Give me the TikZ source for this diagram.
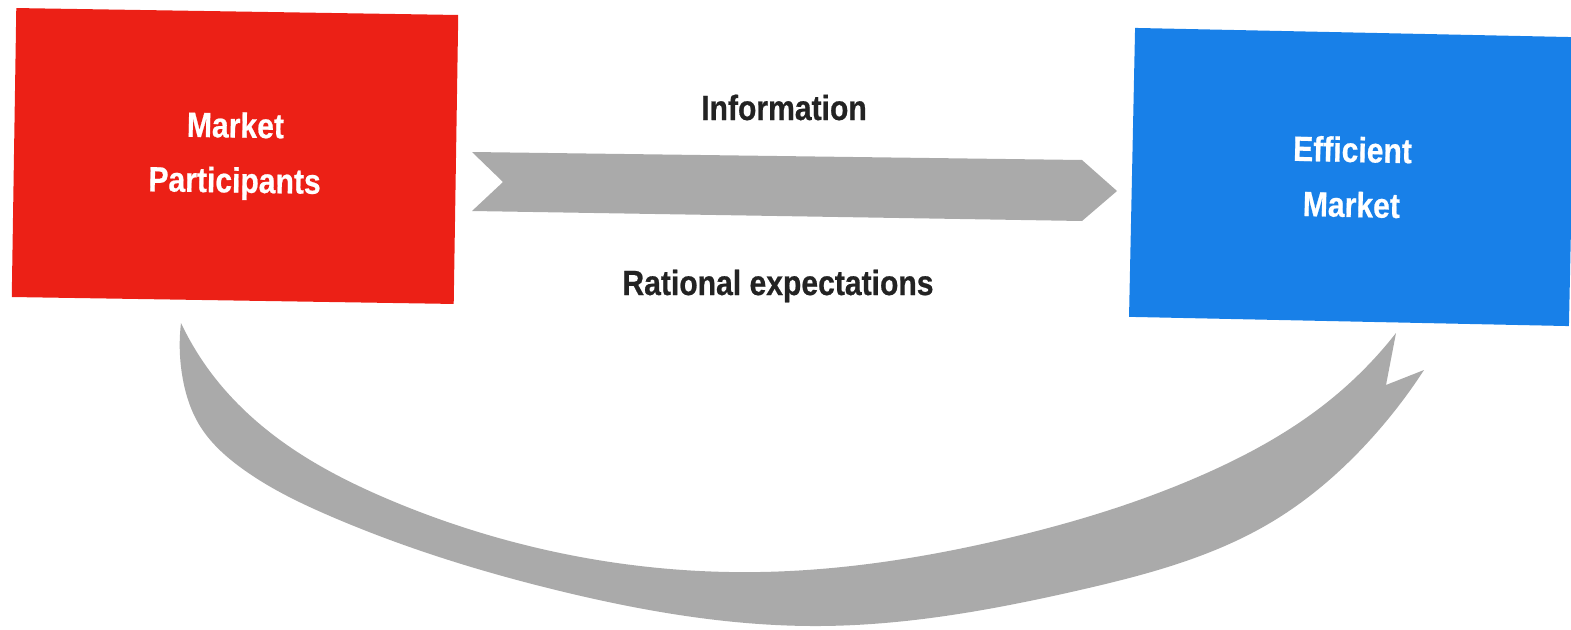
\documentclass[tikz,border=0pt]{standalone}
\usepackage{fontspec}
\newfontfamily\condfont[FakeStretch=0.86, BoldFeatures={FakeBold=0.6}]{Liberation Sans}
\usetikzlibrary{hobby}
\definecolor{mpred}{RGB}{236,32,22}
\definecolor{emblue}{RGB}{24,128,232}
\definecolor{arrowgray}{RGB}{170,170,170}
\definecolor{labelink}{RGB}{35,35,35}
\begin{document}
\begin{tikzpicture}[x=1pt,y=-1pt,
  boxtext/.style={font=\condfont\bfseries\fontsize{35}{55}\selectfont, text=white, align=center},
  colbox/.style={minimum width=442pt, minimum height=289pt, inner sep=0pt, boxtext},
  lbltext/.style={font=\condfont\bfseries\fontsize{35}{42}\selectfont, text=labelink, inner sep=0pt},
  band/.style={fill=arrowgray}
]
\useasboundingbox (0,0) rectangle (1571,629);

% boxes
\node[colbox, fill=mpred, rotate=-0.9] (mp) at (235,156) {Market\\Participants};
\node[colbox, fill=emblue, rotate=-1.2, minimum width=440pt] (em) at (1352,177) {Efficient\\Market};

% top straight arrow (notched tail, pointed head)
\coordinate (tailtop) at (472,152);
\coordinate (tailnotch) at (503,182);
\coordinate (tailbot) at (472,211);
\coordinate (headtop) at (1082,160);
\coordinate (headtip) at (1117,191);
\coordinate (headbot) at (1082,221);
\fill[band] (tailtop) -- (headtop) -- (headtip) -- (headbot) -- (tailbot) -- (tailnotch) -- cycle;

% labels
\node[lbltext, anchor=base] (info) at (784,120) {Information};
\node[lbltext, anchor=base] (ratexp) at (778,295) {Rational expectations};

% bottom curved band (crescent with notched end on the right)
\coordinate (lefttip) at (181,323);
\coordinate (rtipout) at (1424,370);
\coordinate (rnotch) at (1386,385);
\coordinate (rtipin) at (1396,333);
\fill[band]
  (lefttip) to[curve through={(183,380) .. (200,426) .. (240,467) .. (330,516) .. (560,591) .. (820,626) .. (1080,590) .. (1270,523) .. (1370,440)}] (rtipout)
  -- (rnotch) -- (rtipin)
  to[curve through={(1330,400) .. (1200,476) .. (1000,540) .. (760,572) .. (560,553) .. (390,500) .. (280,440) .. (215,378)}] (lefttip)
  -- cycle;
\end{tikzpicture}
\end{document}
